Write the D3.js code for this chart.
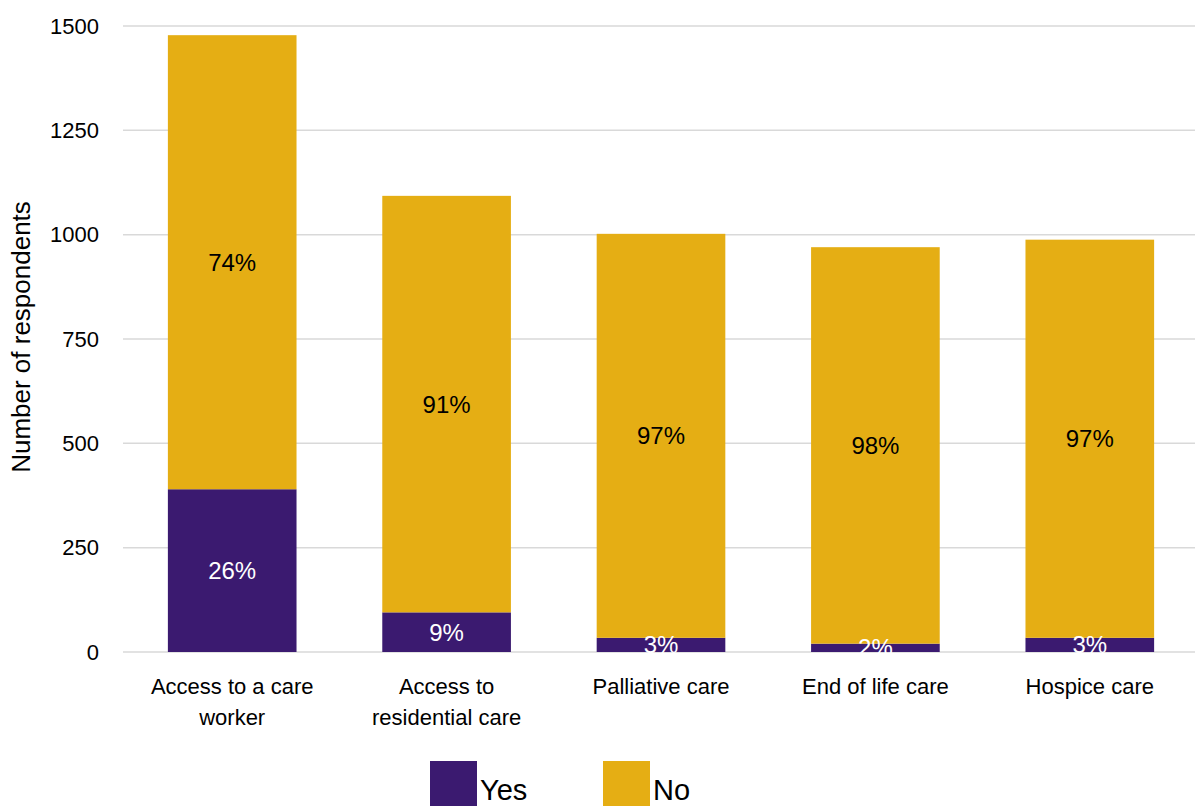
<!DOCTYPE html>
<html>
<head>
<meta charset="utf-8">
<script src="https://cdn.jsdelivr.net/npm/d3@7/dist/d3.min.js"></script>
<style>
  html, body { margin: 0; padding: 0; background: #ffffff; }
  svg { display: block; font-family: "Liberation Sans", Arial, sans-serif; }
</style>
</head>
<body>
<svg id="chart" width="1195" height="806"></svg>
<script>
// Survey responses per service
const categories = ["Access to a care worker", "Access to residential care", "Palliative care", "End of life care", "Hospice care"];
const yesValues = [390, 95, 34, 20, 34];
const noValues = [1088, 998, 968, 950, 954];
const seriesNames = ["Yes", "No"];
const yTicks = [0, 250, 500, 750, 1000, 1250, 1500];

const colors = { Yes: "#3b1a70", No: "#e5ae14" };

const svg = d3.select("#chart");
const margin = { left: 125, right: 1197, top: 26, bottom: 652 };

const x = d3.scaleBand()
  .domain(categories)
  .range([margin.left, margin.right])
  .paddingInner(0.4)
  .paddingOuter(0.2);

const y = d3.scaleLinear()
  .domain([0, 1500])
  .range([margin.bottom, margin.top]);

// Gridlines
svg.append("g")
  .selectAll("line")
  .data(yTicks)
  .join("line")
  .attr("x1", 123)
  .attr("x2", 1195)
  .attr("y1", d => y(d))
  .attr("y2", d => y(d))
  .attr("stroke", "#d9d9d9")
  .attr("stroke-width", 1.5);

// Y axis tick labels
const yAxis = d3.axisLeft(y).tickValues(yTicks).tickFormat(d3.format("d")).tickSize(0).tickPadding(0);
const yg = svg.append("g")
  .attr("transform", "translate(99,0)")
  .call(yAxis);
yg.select(".domain").remove();
yg.selectAll("text")
  .attr("font-size", 22)
  .attr("font-family", "Liberation Sans, Arial, sans-serif")
  .attr("fill", "#000");

// Stacked data
const rows = categories.map((c, i) => ({ category: c, Yes: yesValues[i], No: noValues[i] }));
const stack = d3.stack().keys(seriesNames)(rows);

const layers = svg.append("g")
  .selectAll("g")
  .data(stack)
  .join("g")
  .attr("fill", d => colors[d.key]);

layers.selectAll("rect")
  .data(d => d)
  .join("rect")
  .attr("x", d => x(d.data.category))
  .attr("width", x.bandwidth())
  .attr("y", d => y(d[1]))
  .attr("height", d => y(d[0]) - y(d[1]));

// Percentage labels for each segment
stack.forEach(layer => {
  svg.append("g")
    .selectAll("text")
    .data(layer)
    .join("text")
    .attr("x", d => x(d.data.category) + x.bandwidth() / 2)
    .attr("y", d => (y(d[0]) + y(d[1])) / 2)
    .attr("dy", "0.35em")
    .attr("text-anchor", "middle")
    .attr("font-size", 24)
    .attr("fill", layer.key === "Yes" ? "#ffffff" : "#000000")
    .text(d => {
      const total = d.data.Yes + d.data.No;
      return Math.round((d.data[layer.key] / total) * 100) + "%";
    });
});

// Category labels, wrapped to fit under each bar
const catG = svg.append("g");
categories.forEach(c => {
  const cx = x(c) + x.bandwidth() / 2;
  const t = catG.append("text")
    .attr("x", cx)
    .attr("y", 694)
    .attr("text-anchor", "middle")
    .attr("font-size", 22)
    .attr("fill", "#000");
  const words = c.split(" ");
  let line = [];
  let tspan = t.append("tspan").attr("x", cx).attr("dy", 0);
  words.forEach(w => {
    line.push(w);
    tspan.text(line.join(" "));
    if (tspan.node().getComputedTextLength() > 175 && line.length > 1) {
      line.pop();
      tspan.text(line.join(" "));
      line = [w];
      tspan = t.append("tspan")
        .attr("x", cx)
        .attr("dy", 31)
        .text(w);
    }
  });
});

// Y axis title
svg.append("text")
  .attr("transform", "translate(30,337) rotate(-90)")
  .attr("text-anchor", "middle")
  .attr("font-size", 26)
  .attr("fill", "#000")
  .text("Number of respondents");

// Legend
const legend = svg.append("g");
const legendX = [430, 603];
seriesNames.forEach((s, i) => {
  legend.append("rect")
    .attr("x", legendX[i])
    .attr("y", 761)
    .attr("width", 47)
    .attr("height", 45)
    .attr("fill", colors[s]);
  legend.append("text")
    .attr("x", legendX[i] + 50)
    .attr("y", 800)
    .attr("font-size", 29)
    .attr("fill", "#000")
    .text(s);
});
</script>
</body>
</html>
